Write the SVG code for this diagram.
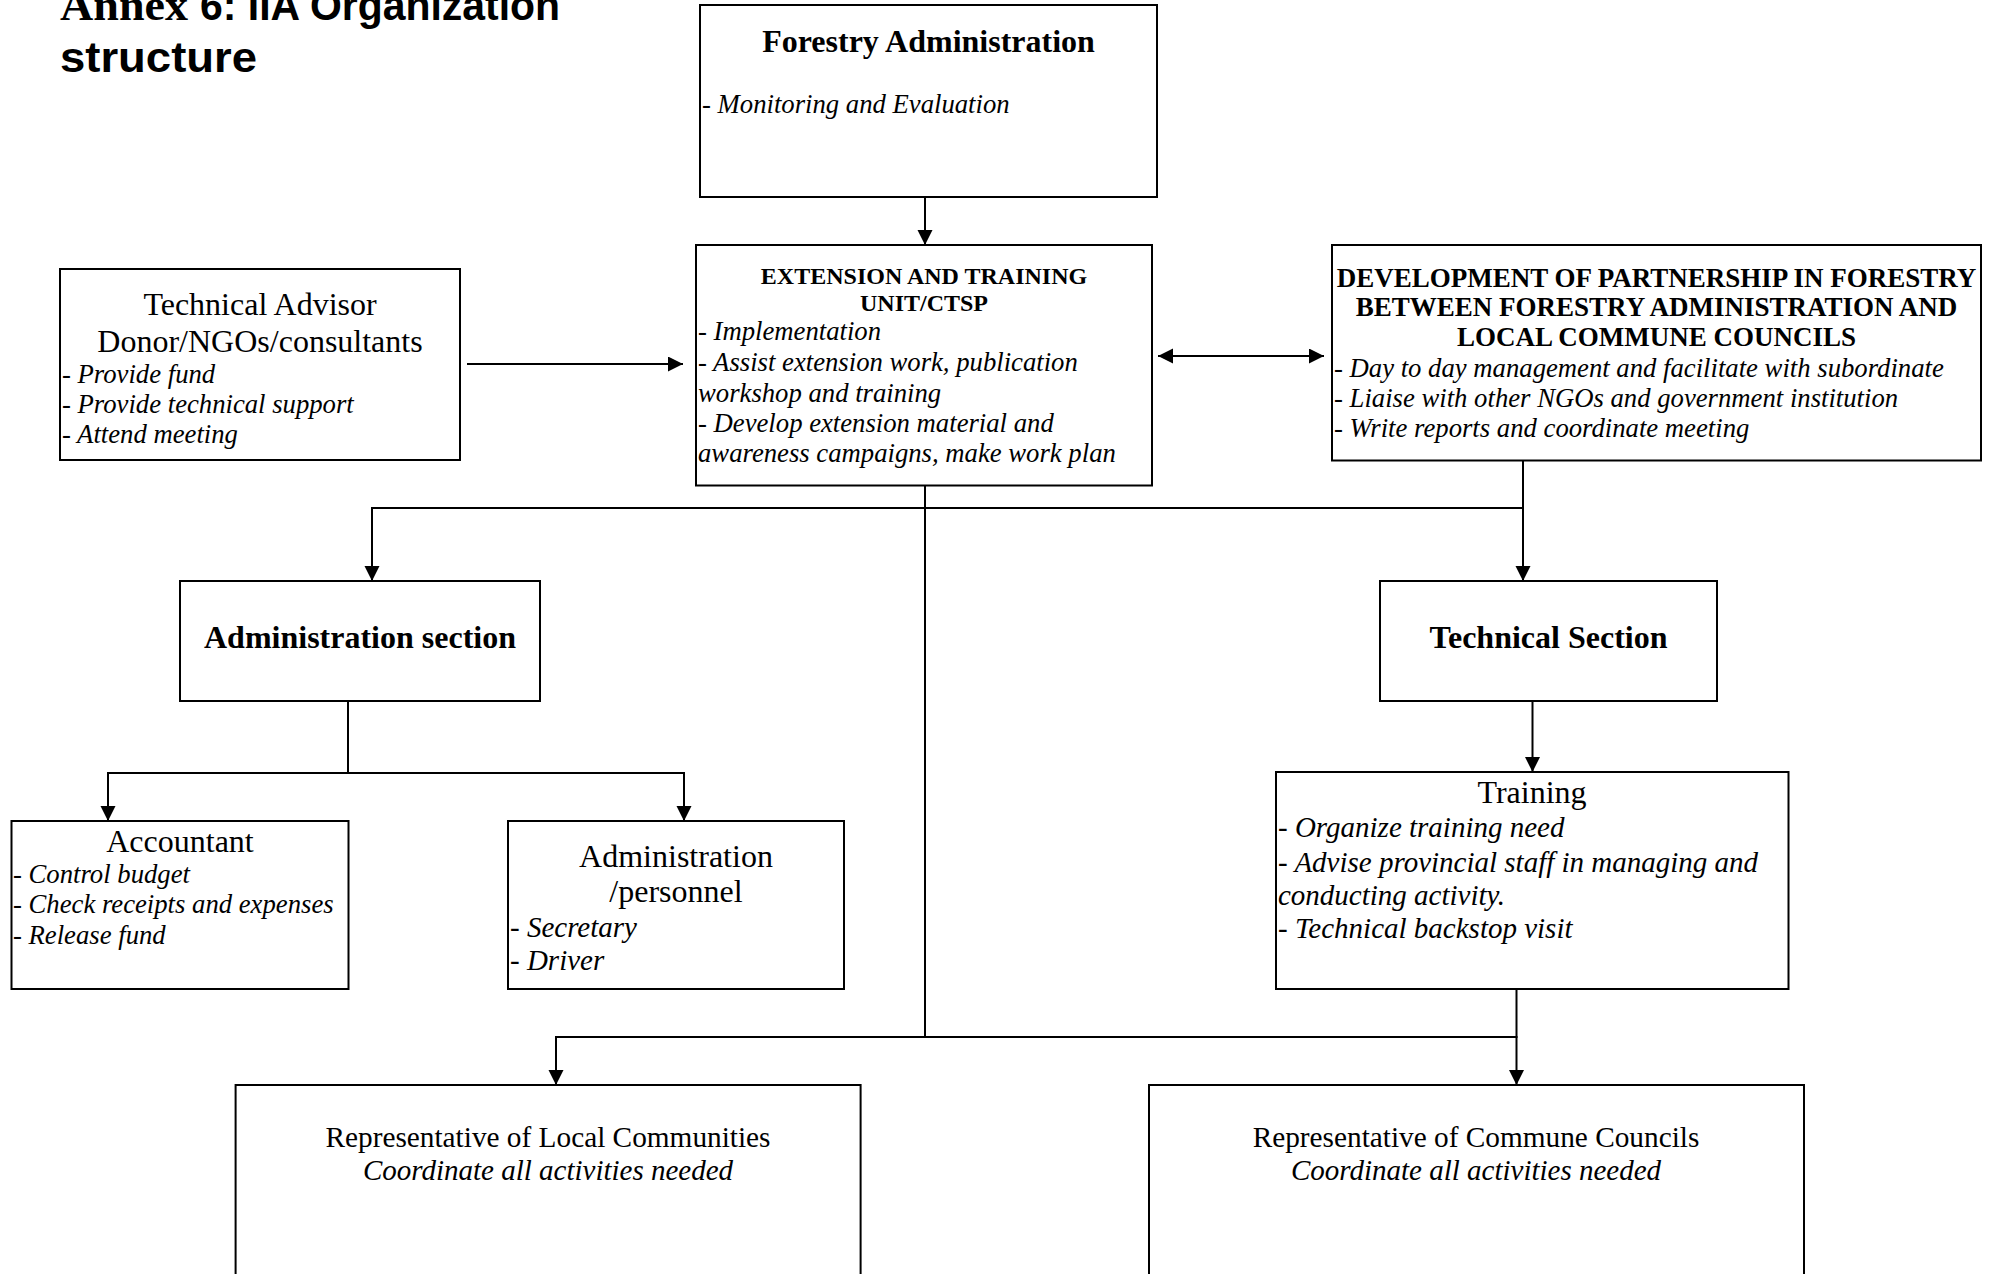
<svg xmlns="http://www.w3.org/2000/svg" width="1997" height="1274" viewBox="0 0 1997 1274">
<style>
.box{fill:#fff;stroke:#000;stroke-width:2}
.ln{fill:none;stroke:#000;stroke-width:2}
.t{font-family:"Liberation Serif","Times New Roman",serif;fill:#000}
.h{font-size:32px}
.b{font-weight:bold}
.i{font-style:italic;font-size:26.7px}
.i29{font-style:italic;font-size:29px}
.c{text-anchor:middle}
.sans{font-family:"Liberation Sans",Arial,sans-serif;font-weight:bold;fill:#000}
</style>
<defs>
<marker id="arr" markerUnits="userSpaceOnUse" markerWidth="16" markerHeight="16" refX="15" refY="7.5" orient="auto-start-reverse" viewBox="0 0 16 16">
<path d="M0,0 L15,7.5 L0,15 z" fill="#000"/>
</marker>
</defs>
<rect width="1997" height="1274" fill="#fff"/>

<g id="title">
<text x="60" y="20" class="t b" font-size="44" textLength="128" lengthAdjust="spacingAndGlyphs">Annex</text>
<text x="200" y="20" class="sans" font-size="42" textLength="360" lengthAdjust="spacingAndGlyphs">6: IIA Organization</text>
<text x="60" y="71.5" class="sans" font-size="42" textLength="197" lengthAdjust="spacingAndGlyphs">structure</text>
</g>

<g id="connectors">
<line class="ln" x1="925" y1="197" x2="925" y2="245" marker-end="url(#arr)"/>
<line class="ln" x1="467" y1="364" x2="683" y2="364" marker-end="url(#arr)"/>
<line class="ln" x1="1158" y1="356" x2="1324" y2="356" marker-start="url(#arr)" marker-end="url(#arr)"/>
<line class="ln" x1="925" y1="486" x2="925" y2="1037"/>
<line class="ln" x1="371" y1="508" x2="1524" y2="508"/>
<line class="ln" x1="372" y1="508" x2="372" y2="581" marker-end="url(#arr)"/>
<line class="ln" x1="1523" y1="460" x2="1523" y2="581" marker-end="url(#arr)"/>
<line class="ln" x1="348" y1="701" x2="348" y2="773"/>
<line class="ln" x1="107" y1="773" x2="685" y2="773"/>
<line class="ln" x1="108" y1="773" x2="108" y2="821" marker-end="url(#arr)"/>
<line class="ln" x1="684" y1="773" x2="684" y2="821" marker-end="url(#arr)"/>
<line class="ln" x1="1532.5" y1="701" x2="1532.5" y2="772" marker-end="url(#arr)"/>
<line class="ln" x1="1516.5" y1="989" x2="1516.5" y2="1085" marker-end="url(#arr)"/>
<line class="ln" x1="555" y1="1037" x2="1517.5" y2="1037"/>
<line class="ln" x1="556" y1="1037" x2="556" y2="1085" marker-end="url(#arr)"/>
</g>

<g id="forestry-administration">
<rect class="box" x="700" y="5" width="457" height="192"/>
<text x="928.5" y="52" class="t h b c">Forestry Administration</text>
<text x="702" y="113" class="t i">- Monitoring and Evaluation</text>
</g>

<g id="extension-training">
<rect class="box" x="696" y="245" width="456" height="240.5"/>
<text x="924" y="284.3" class="t b c" font-size="24">EXTENSION AND TRAINING</text>
<text x="924" y="311" class="t b c" font-size="24">UNIT/CTSP</text>
<text x="698" y="340" class="t i">- Implementation</text>
<text x="698" y="370.7" class="t i">- Assist extension work, publication</text>
<text x="698" y="401.7" class="t i">workshop and training</text>
<text x="698" y="432.3" class="t i">- Develop extension material and</text>
<text x="698" y="462.3" class="t i">awareness campaigns, make work plan</text>
</g>

<g id="technical-advisor">
<rect class="box" x="60" y="269" width="400" height="191"/>
<text x="260" y="315" class="t h c">Technical Advisor</text>
<text x="260" y="351.7" class="t h c">Donor/NGOs/consultants</text>
<text x="62" y="383.3" class="t i">- Provide fund</text>
<text x="62" y="413.3" class="t i">- Provide technical support</text>
<text x="62" y="443.3" class="t i">- Attend meeting</text>
</g>

<g id="development-partnership">
<rect class="box" x="1332" y="245" width="649" height="215.5"/>
<text x="1656.5" y="286.5" class="t b c" font-size="27">DEVELOPMENT OF PARTNERSHIP IN FORESTRY</text>
<text x="1656.5" y="316" class="t b c" font-size="27">BETWEEN FORESTRY ADMINISTRATION AND</text>
<text x="1656.5" y="345.5" class="t b c" font-size="27">LOCAL COMMUNE COUNCILS</text>
<text x="1334" y="377" class="t i">- Day to day management and facilitate with subordinate</text>
<text x="1334" y="407" class="t i">- Liaise with other NGOs and government institution</text>
<text x="1334" y="437" class="t i">- Write reports and coordinate meeting</text>
</g>

<g id="administration-section">
<rect class="box" x="180" y="581" width="360" height="120"/>
<text x="360" y="648.3" class="t h b c">Administration section</text>
</g>

<g id="technical-section">
<rect class="box" x="1380" y="581" width="337" height="120"/>
<text x="1548.5" y="648.3" class="t h b c">Technical Section</text>
</g>

<g id="accountant">
<rect class="box" x="11.5" y="821" width="337" height="168"/>
<text x="180" y="851.7" class="t h c">Accountant</text>
<text x="13" y="883.3" class="t i">- Control budget</text>
<text x="13" y="913.3" class="t i">- Check receipts and expenses</text>
<text x="13" y="944" class="t i">- Release fund</text>
</g>

<g id="administration-personnel">
<rect class="box" x="508" y="821" width="336" height="168"/>
<text x="676" y="866.7" class="t h c">Administration</text>
<text x="676" y="901.7" class="t h c">/personnel</text>
<text x="510" y="936.7" class="t i29">- Secretary</text>
<text x="510" y="970" class="t i29">- Driver</text>
</g>

<g id="training">
<rect class="box" x="1276" y="772" width="512.5" height="217"/>
<text x="1532" y="803.3" class="t h c">Training</text>
<text x="1278" y="836.7" class="t i29">- Organize training need</text>
<text x="1278" y="871.7" class="t i29">- Advise provincial staff in managing and</text>
<text x="1278" y="905" class="t i29">conducting activity.</text>
<text x="1278" y="938.3" class="t i29">- Technical backstop visit</text>
</g>

<g id="local-communities">
<rect class="box" x="235.6" y="1085" width="625" height="220"/>
<text x="548" y="1146.7" class="t c" font-size="29.3">Representative of Local Communities</text>
<text x="548" y="1180" class="t c" font-size="29" font-style="italic">Coordinate all activities needed</text>
</g>

<g id="commune-councils">
<rect class="box" x="1149" y="1085" width="655" height="220"/>
<text x="1476" y="1146.7" class="t c" font-size="29.3">Representative of Commune Councils</text>
<text x="1476" y="1180" class="t c" font-size="29" font-style="italic">Coordinate all activities needed</text>
</g>
</svg>
